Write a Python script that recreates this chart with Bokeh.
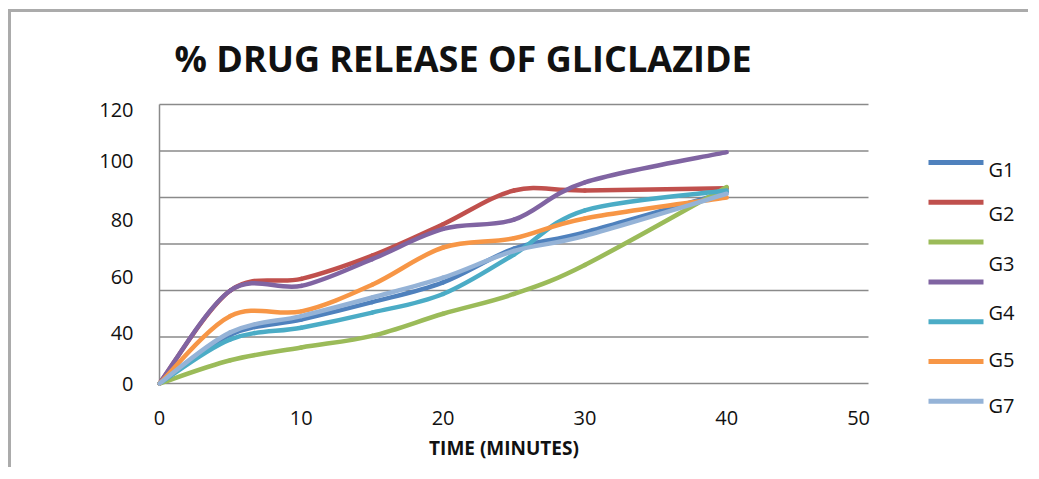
from bokeh.plotting import figure
from bokeh.models import Range1d
from bokeh.embed import file_html
from bokeh.resources import INLINE
from bokeh.core.properties import value

# ---------------- data ----------------
time_min = [0, 5, 10, 15, 20, 25, 30, 40]
G1 = [0, 21.0, 27.5, 35.0, 43.5, 58.0, 65.0, 82.3]
G2 = [0, 40.0, 45.0, 55.0, 68.5, 83.0, 83.0, 84.0]
G3 = [0, 10.0, 15.5, 20.5, 30.0, 38.5, 51.0, 84.5]
G4 = [0, 40.0, 42.0, 53.5, 66.5, 70.5, 86.5, 99.5]
G5 = [0, 19.0, 24.0, 30.5, 38.5, 55.5, 74.5, 83.0]
G6 = [0, 29.0, 31.0, 42.5, 58.5, 62.5, 71.0, 80.0]
G7 = [0, 22.0, 29.0, 37.0, 45.5, 57.0, 63.5, 81.6]
series_names = ["G1", "G2", "G3", "G4", "G5", "G6", "G7"]
series_values = [G1, G2, G3, G4, G5, G6, G7]
colors = ["#4F81BD", "#C0504D", "#9BBB59", "#8064A2", "#4BACC6", "#F79646", "#95B3D7"]

legend_labels = ["G1", "G2", "G3", "G4", "G5", "G7"]

x_tick_labels = ["0", "10", "20", "30", "40", "50"]
x_tick_pos = [0, 10, 20, 30, 40, 49.3]
x_axis_max = 50
y_tick_labels = ["0", "40", "60", "80", "100", "120"]
y_tick_pos = [0, 21.9, 45.6, 70.5, 95.5, 117.5]
y_grid = [0, 20, 40, 60, 80, 100, 120]
y_axis_max = 120

FONT = "Open Sans"
GRID = "#8a8a8a"
TEXT = "#111111"

# ---------------- geometry (pixels) ----------------
W, H = 1020, 458
PLOT_L, PLOT_T = 148, 92               # plot-area left / top edge inside the canvas
FRAME_T = 78                           # frame top (a little above the plot area)
PLOT_W_PX, PLOT_H_PX = 709, 279        # span of the 0..50 x 0..120 plot area
PX_PER_X = PLOT_W_PX / x_axis_max
PX_PER_Y = PLOT_H_PX / y_axis_max
x_start = -PLOT_L / PX_PER_X
x_end = (W - PLOT_L) / PX_PER_X
y_end = y_axis_max + (PLOT_T - FRAME_T) / PX_PER_Y
y_start = y_axis_max - (H - PLOT_T) / PX_PER_Y

p = figure(width=W, height=H, output_backend="svg", toolbar_location=None,
           x_range=Range1d(x_start, x_end), y_range=Range1d(y_start, y_end),
           min_border_left=0, min_border_right=0,
           min_border_top=FRAME_T, min_border_bottom=0,
           styles={"border-top": "3px solid #ababab",
                   "border-left": "3px solid #ababab",
                   "border-right": "0px none transparent",
                   "border-bottom": "0px none transparent",
                   "margin-left": "8px", "margin-top": "9px"})
p.outline_line_color = None
p.outline_line_alpha = 0
p.background_fill_color = "white"
p.border_fill_color = "white"
p.axis.visible = False
p.grid.visible = False

p.title.text = "% DRUG RELEASE OF GLICLAZIDE"
p.title.text_font = FONT
p.title.text_font_size = "36px"
p.title.text_font_style = "bold"
p.title.text_color = TEXT
p.title.align = "left"
p.title.offset = PLOT_L + 15
p.title.standoff = 29 - (PLOT_T - FRAME_T)

# horizontal gridlines (the one at 0 is the x axis line), limited to the plot area
p.segment(x0=[0] * len(y_grid), x1=[x_axis_max] * len(y_grid), y0=y_grid, y1=y_grid,
          line_color=GRID, line_width=1.5)
# y axis line
p.segment(x0=[0], x1=[0], y0=[0], y1=[y_axis_max], line_color=GRID, line_width=1.5)

# tick labels and axis title
p.text(x=[0] * len(y_tick_pos), y=y_tick_pos, text=y_tick_labels, x_offset=-26,
       text_font=value(FONT), text_font_size="20px", text_color=TEXT,
       text_align="right", text_baseline="middle")
p.text(x=x_tick_pos, y=[0] * len(x_tick_pos), text=x_tick_labels, y_offset=34,
       text_font=value(FONT), text_font_size="20px", text_color=TEXT,
       text_align="center", text_baseline="middle")
p.text(x=[x_axis_max / 2], y=[0], text=["TIME (MINUTES)"], y_offset=64, x_offset=-10,
       text_font=value(FONT), text_font_size="19px", text_font_style="bold",
       text_color=TEXT, text_align="center", text_baseline="middle")


def smooth_segments(xs, ys):
    """Bezier control points for an Excel-like smoothed line through the data."""
    n = len(xs)
    seg = {k: [] for k in ("x0", "y0", "x1", "y1", "cx0", "cy0", "cx1", "cy1")}
    for i in range(n - 1):
        im1 = max(i - 1, 0)
        ip2 = min(i + 2, n - 1)
        seg["x0"].append(xs[i]); seg["y0"].append(ys[i])
        seg["x1"].append(xs[i + 1]); seg["y1"].append(ys[i + 1])
        seg["cx0"].append(xs[i] + (xs[i + 1] - xs[im1]) / 6.0)
        seg["cy0"].append(ys[i] + (ys[i + 1] - ys[im1]) / 6.0)
        seg["cx1"].append(xs[i + 1] - (xs[ip2] - xs[i]) / 6.0)
        seg["cy1"].append(ys[i + 1] - (ys[ip2] - ys[i]) / 6.0)
    return seg


for name, vals, col in zip(series_names, series_values, colors):
    s = smooth_segments(time_min, vals)
    p.bezier(x0=s["x0"], y0=s["y0"], x1=s["x1"], y1=s["y1"],
             cx0=s["cx0"], cy0=s["cy0"], cx1=s["cx1"], cy1=s["cy1"],
             line_color=col, line_width=4.5, line_cap="round")

# ---------------- legend (pixel offsets from the plot area's top-right corner) ----------------
def px_x(dx):   # horizontal pixel offset right of x_axis_max -> data x
    return x_axis_max + dx / PX_PER_X


def px_y(dy):   # vertical pixel offset below y_axis_max -> data y
    return y_axis_max - dy / PX_PER_Y


LINE_DX0, LINE_DX1 = 60, 115
LINE_DY0, LINE_STEP = 58, 39.8
line_y = [px_y(LINE_DY0 + i * LINE_STEP) for i in range(len(colors))]
p.segment(x0=[px_x(LINE_DX0)] * len(colors), x1=[px_x(LINE_DX1)] * len(colors),
          y0=line_y, y1=line_y, line_color=colors, line_width=5)
label_dy = [65, 109, 159, 208, 255, 301]
p.text(x=[px_x(120)] * len(legend_labels), y=[px_y(d) for d in label_dy], text=legend_labels,
       text_font=value(FONT), text_font_size="20px", text_color=TEXT,
       text_align="left", text_baseline="middle")

open("out.html", "w").write(file_html(p, INLINE))
